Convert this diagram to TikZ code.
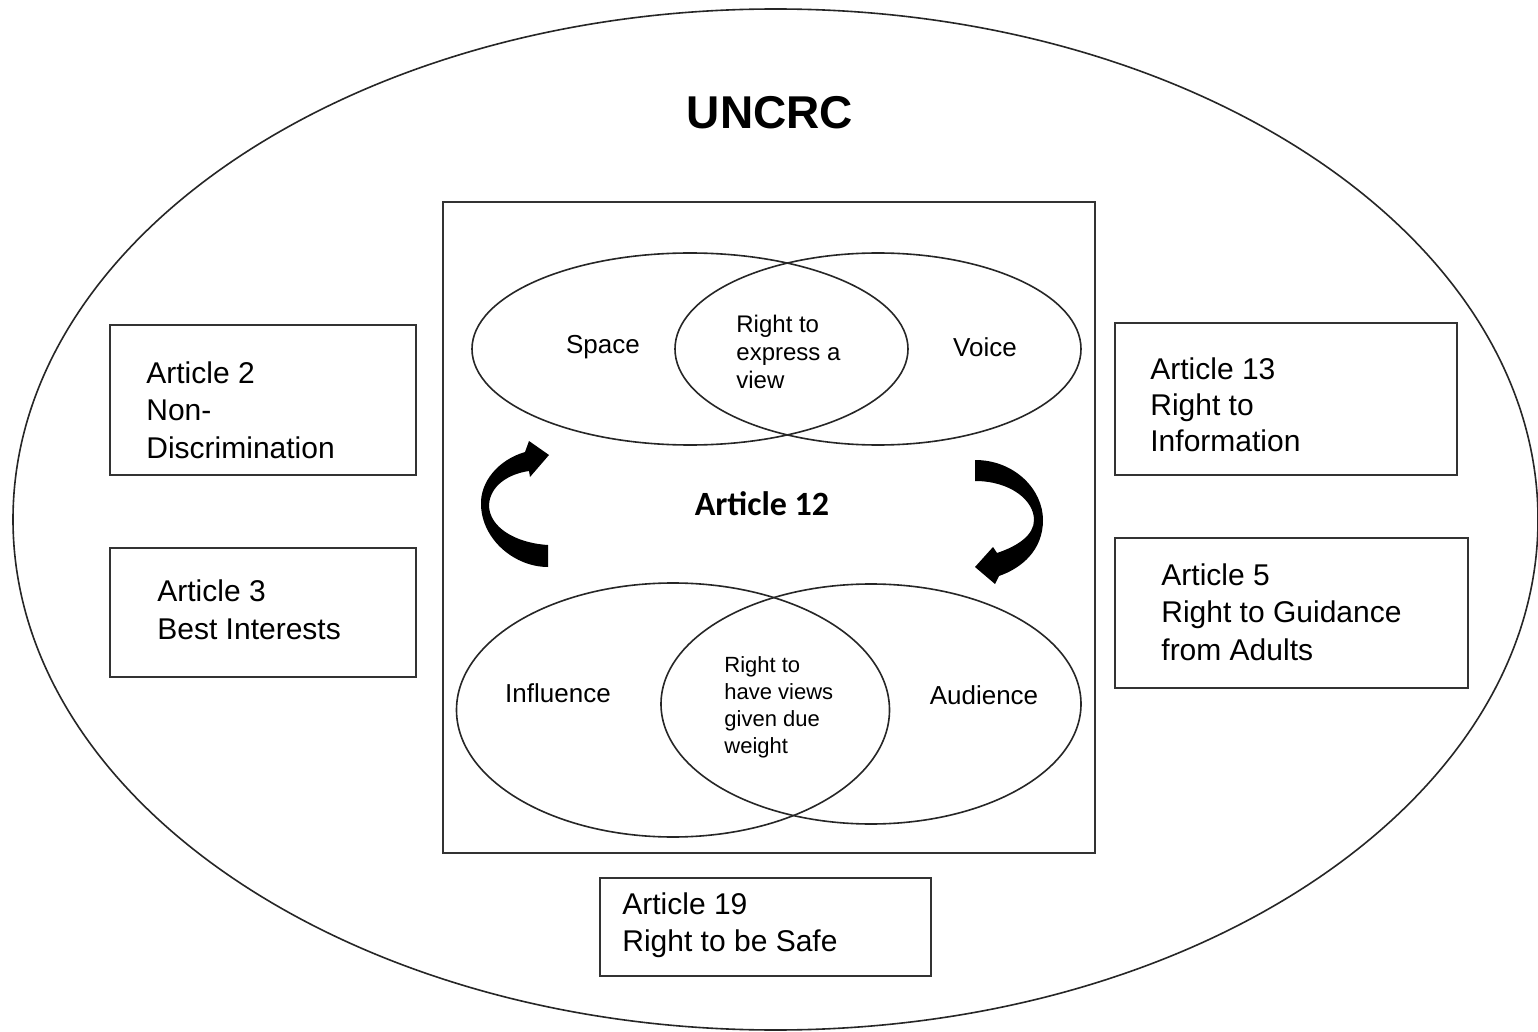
\documentclass[tikz,border=0pt]{standalone}
\usepackage{fontspec}
\setmainfont{Liberation Sans}
\newfontfamily\calibri{Carlito}
\usetikzlibrary{shapes.geometric}
\begin{document}
\begin{tikzpicture}[x=0.5pt,y=-0.5pt,
  venn/.style={draw=black!85, line width=0.8pt, ellipse, inner sep=0pt},
  artbox/.style={draw=black!80, line width=1.1pt, rectangle, inner sep=0pt},
  boxtext/.style={anchor=west, align=left, inner sep=0pt, font=\fontsize{15}{18.75}\selectfont},
  venntext/.style={inner sep=0pt, font=\fontsize{13}{15}\selectfont},
  lenstext/.style={anchor=west, align=left, inner sep=0pt},
  curvedarrow/.style={fill=black}]
\useasboundingbox (0,0) rectangle (1538,1032);
\fill[white] (0,0) rectangle (1538,1032);

% outer ellipse
\node[venn, minimum width=762.5pt, minimum height=510.5pt] (outer) at (775.5,519.5) {};
\node[inner sep=0pt, font=\fontsize{23}{27}\selectfont\bfseries] (uncrc) at (770,113) {UNCRC};

% central frame
\node[artbox, minimum width=326pt, minimum height=325.5pt] (frame) at (769,527.5) {};

% top Venn
\node[venn, minimum width=218pt, minimum height=96pt] (space) at (690,349) {};
\node[venn, minimum width=203pt, minimum height=96pt] (voice) at (878,349) {};
\node[venntext] (tspace) at (603,347) {Space};
\node[venntext] (tvoice) at (985,347) {Voice};
\node[lenstext, font=\fontsize{12}{14}\selectfont] (texpress) at (736,352) {Right to\\express a\\view};

% Article 12
\node[inner sep=0pt, font=\fontsize{17}{20}\calibri\bfseries] (a12) at (762,504) {Article 12};

% curved arrows
\fill[curvedarrow] (548,545) .. controls (515,543) and (489,527) .. (489,505)
  .. controls (490,486) and (508,474) .. (529,471) -- (530,477) -- (549,455)
  -- (529,441) -- (525,452) .. controls (498,460) and (480,482) .. (481,505)
  .. controls (482,540) and (515,567) .. (548,567) -- cycle;
\fill[curvedarrow] (975,460) .. controls (1015,460) and (1043,490) .. (1043,520)
  .. controls (1043,550) and (1022,568) .. (999,576) -- (995,584) -- (975,567)
  -- (993,547) -- (997,553) .. controls (1018,546) and (1034,535) .. (1034,520)
  .. controls (1034,500) and (1010,481) .. (975,481) -- cycle;

% bottom Venn
\node[venn, minimum width=216.5pt, minimum height=127pt] (influence) at (673,710) {};
\node[venn, minimum width=210pt, minimum height=120pt] (audience) at (871,704) {};
\node[venntext] (tinfluence) at (558,693) {Influence};
\node[venntext] (taudience) at (984,695) {Audience};
\node[lenstext, font=\fontsize{11}{13.5}\selectfont] (tweight) at (724,707) {Right to\\have views\\given due\\weight};

% article boxes
\node[artbox, minimum width=153pt, minimum height=75pt] (a2) at (263,400) {};
\node[boxtext] (ta2) at (146,410) {Article 2\\Non-\\Discrimination};
\node[artbox, minimum width=153pt, minimum height=64.5pt] (a3) at (263,612.5) {};
\node[boxtext] (ta3) at (157,610) {Article 3\\Best Interests};
\node[artbox, minimum width=171pt, minimum height=76pt] (a13) at (1286,399) {};
\node[boxtext, font=\fontsize{15}{18}\selectfont] (ta13) at (1150,405) {Article 13\\Right to\\Information};
\node[artbox, minimum width=176.5pt, minimum height=75pt] (a5) at (1291.5,613) {};
\node[boxtext] (ta5) at (1161,612) {Article 5\\Right to Guidance\\from Adults};
\node[artbox, minimum width=165.5pt, minimum height=49pt] (a19) at (765.5,927) {};
\node[boxtext] (ta19) at (622,925) {Article 19\\Right to be Safe};
\end{tikzpicture}
\end{document}
